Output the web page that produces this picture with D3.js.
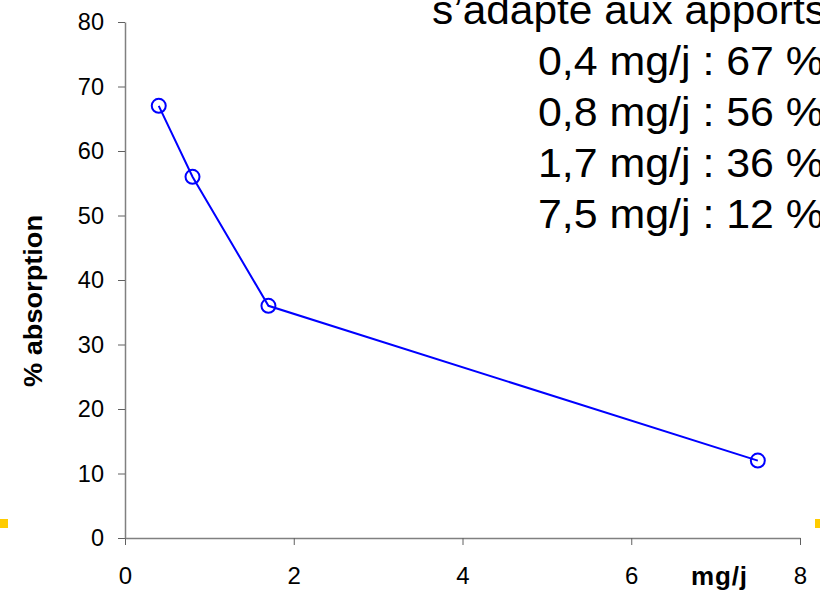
<!DOCTYPE html>
<html><head><meta charset="utf-8">
<script src="https://cdn.jsdelivr.net/npm/d3@7"></script>
<style>body{margin:0;background:#fff;overflow:hidden}svg{display:block}text{font-family:"Liberation Sans",Arial,sans-serif}</style>
</head><body>
<script>
const doses = [0.4, 0.8, 1.7, 7.5];
const absorption = [67, 56, 36, 12];
const xTicks = [0, 2, 4, 6, 8];
const yTicks = [0, 10, 20, 30, 40, 50, 60, 70, 80];
const textLines = ["s\u2019adapte aux apports", "0,4 mg/j : 67 %", "0,8 mg/j : 56 %", "1,7 mg/j : 36 %", "7,5 mg/j : 12 %"];

const W = 820, H = 590;
const svg = d3.select("body").append("svg").attr("width", W).attr("height", H);
const x = d3.scaleLinear().domain([0, 8]).range([125, 800]);
const y = d3.scaleLinear().domain([0, 80]).range([538, 22]);

// decorative yellow bullets
svg.append("rect").attr("x", 0).attr("y", 519).attr("width", 8).attr("height", 9).attr("fill", "#FFCC00");
svg.append("rect").attr("x", 815).attr("y", 519).attr("width", 8).attr("height", 9).attr("fill", "#FFCC00");

const gx = svg.append("g").attr("transform", `translate(0,${y(0)})`)
  .call(d3.axisBottom(x).tickValues(xTicks).tickSize(7).tickSizeOuter(0).tickPadding(22));
gx.select(".domain").attr("stroke", "#808080").attr("stroke-width", 1.5);
gx.selectAll(".tick line").attr("stroke", "#606060");
gx.selectAll(".tick text").attr("font-size", 24).attr("fill", "#000").attr("font-family", "Liberation Sans, Arial, sans-serif");

const gy = svg.append("g").attr("transform", `translate(${x(0)},0)`)
  .call(d3.axisLeft(y).tickValues(yTicks).tickSize(7).tickSizeOuter(0).tickPadding(14));
gy.select(".domain").attr("stroke", "#808080").attr("stroke-width", 1.5);
gy.selectAll(".tick line").attr("stroke", "#606060");
gy.selectAll(".tick text").attr("font-size", 23.5).attr("fill", "#000").attr("font-family", "Liberation Sans, Arial, sans-serif");

const pts = doses.map((d, i) => [d, absorption[i]]);
svg.append("path").datum(pts)
  .attr("d", d3.line().x(d => x(d[0])).y(d => y(d[1])))
  .attr("fill", "none").attr("stroke", "#0000FF").attr("stroke-width", 2);
svg.selectAll("circle.pt").data(pts).join("circle").attr("class", "pt")
  .attr("cx", d => x(d[0])).attr("cy", d => y(d[1])).attr("r", 7)
  .attr("fill", "none").attr("stroke", "#0000FF").attr("stroke-width", 2);

svg.append("text").attr("transform", "translate(42,301) rotate(-90)")
  .attr("text-anchor", "middle").attr("font-size", 25).attr("font-weight", "bold")
  .attr("textLength", 172).attr("lengthAdjust", "spacingAndGlyphs").text("% absorption");
svg.append("text").attr("x", 691).attr("y", 585)
  .attr("font-size", 26).attr("font-weight", "bold")
  .attr("textLength", 56).attr("lengthAdjust", "spacing").text("mg/j");

const tx = [432, 538, 538, 538, 538];
const ty = [24, 75, 126, 177, 228];
const tl = [394, 286, 286, 286, 286];
svg.selectAll("text.note").data(textLines).join("text").attr("class", "note")
  .attr("x", (d, i) => tx[i]).attr("y", (d, i) => ty[i]).attr("font-size", 41).attr("fill", "#000")
  .attr("textLength", (d, i) => tl[i]).attr("lengthAdjust", "spacingAndGlyphs").text(d => d);
</script>
</body></html>
